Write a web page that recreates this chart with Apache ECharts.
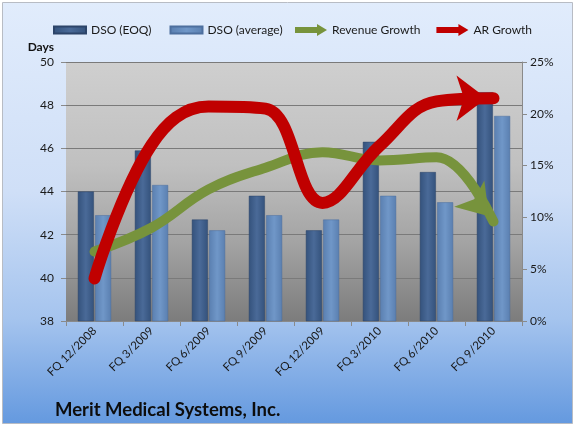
<!DOCTYPE html>
<html>
<head>
<meta charset="utf-8">
<script src="https://cdn.jsdelivr.net/npm/echarts@6/dist/echarts.min.js"></script>
<style>
html,body{margin:0;padding:0;background:#fff;}
#c{width:575px;height:427px;}
</style>
</head>
<body>
<div id="c"></div>
<script>
var categories = ['FQ 12/2008','FQ 3/2009','FQ 6/2009','FQ 9/2009','FQ 12/2009','FQ 3/2010','FQ 6/2010','FQ 9/2010'];
var dsoEoq = [44.0, 45.9, 42.7, 43.8, 42.2, 46.3, 44.9, 48.6];
var dsoAvg = [42.9, 44.3, 42.2, 42.9, 42.7, 43.8, 43.5, 47.5];
var revenueGrowth = [6.7, 9.0, 12.7, 14.8, 16.3, 15.5, 15.8, 9.6];
var arGrowth = [4.1, 17.0, 20.7, 20.5, 11.4, 16.9, 21.2, 21.5];
var daysTicks = {min: 38, max: 50, interval: 2};
var pctTicks = {min: 0, max: 25, interval: 5};

var FONT = 'Lato';
var ARROW = 'path://M0,3 L22,3 L22,0 L32,6 L22,12 L22,9 L0,9 Z';

function withArrow(arr, rot, off, size) {
  return arr.map(function (v, i) {
    if (i === arr.length - 1) {
      return {value: v, symbol: 'arrow', symbolSize: size, symbolRotate: rot, symbolOffset: off};
    }
    return {value: v, symbol: 'none'};
  });
}

var chart = echarts.init(document.getElementById('c'), null, {renderer: 'canvas'});

var gAng = 49 * Math.PI / 180;
var gShift = -15 + 8;
var option = {
  animation: false,
  graphic: [{
    type: 'rect', z: -10, silent: true,
    shape: {x: 2.5, y: 2.5, width: 570, height: 421},
    style: {
      fill: new echarts.graphic.LinearGradient(0, 0, 0, 1, [
        {offset: 0, color: '#e1ecfc'},
        {offset: 0.45, color: '#cfdff7'},
        {offset: 0.75, color: '#a5c4ee'},
        {offset: 1, color: '#6499df'}
      ]),
      stroke: '#b8bcc4', lineWidth: 1
    }
  }],
  title: {
    text: 'Merit Medical Systems, Inc.',
    left: 50, top: 396,
    textStyle: {fontFamily: FONT, fontSize: 18.5, fontWeight: 'bold', color: '#0d0d0d'}
  },
  legend: [{
    left: 48, top: 19,
    itemWidth: 32, itemHeight: 7, itemGap: 18,
    textStyle: {fontFamily: FONT, fontSize: 12, color: '#1a1a1a'},
    data: [
      {name: 'DSO (EOQ)', icon: 'rect'},
      {name: 'DSO (average)', icon: 'rect'}
    ]
  }, {
    left: 290, top: 19,
    itemWidth: 32, itemHeight: 13, itemGap: 16,
    textStyle: {fontFamily: FONT, fontSize: 12, color: '#1a1a1a'},
    data: [
      {name: 'Revenue Growth', icon: ARROW},
      {name: 'AR Growth', icon: ARROW}
    ]
  }],
  grid: {
    left: 66, right: 53, top: 62, bottom: 106,
    show: true, borderWidth: 0,
    backgroundColor: new echarts.graphic.LinearGradient(0, 0, 0, 1, [
      {offset: 0, color: '#cfcfcf'},
      {offset: 0.4, color: '#c0c0c0'},
      {offset: 0.7, color: '#a3a3a3'},
      {offset: 1, color: '#7c7c7c'}
    ])
  },
  xAxis: {
    type: 'category',
    data: categories,
    boundaryGap: true,
    axisLine: {lineStyle: {color: '#8a8a8a'}},
    axisTick: {show: true, length: 5, lineStyle: {color: '#8a8a8a'}},
    axisLabel: {rotate: 45, fontFamily: FONT, fontSize: 11.5, color: '#1a1a1a', margin: 8}
  },
  yAxis: [{
    type: 'value',
    min: daysTicks.min, max: daysTicks.max, interval: daysTicks.interval,
    name: 'Days', nameLocation: 'end', nameGap: 9,
    nameTextStyle: {fontFamily: FONT, fontSize: 12, fontWeight: 'bold', color: '#111', align: 'right', padding: [0, 12, 0, 0]},
    axisLine: {show: false},
    axisTick: {show: true, length: 5, lineStyle: {color: '#8a8a8a'}},
    axisLabel: {fontFamily: FONT, fontSize: 12, color: '#1a1a1a', margin: 12},
    splitLine: {lineStyle: {color: '#7a7a7a', width: 1}}
  }, {
    type: 'value',
    min: pctTicks.min, max: pctTicks.max, interval: pctTicks.interval,
    position: 'right',
    axisLine: {show: true, lineStyle: {color: '#8a8a8a'}},
    axisTick: {show: true, length: 5, lineStyle: {color: '#8a8a8a'}},
    axisLabel: {fontFamily: FONT, fontSize: 12, color: '#1a1a1a', margin: 8, formatter: '{value}%'},
    splitLine: {show: false}
  }],
  series: [{
    name: 'DSO (EOQ)', type: 'bar', yAxisIndex: 0,
    data: dsoEoq, barWidth: 16, barGap: '8%',
    itemStyle: {
      color: new echarts.graphic.LinearGradient(0, 0, 1, 0, [
        {offset: 0, color: '#34527c'},
        {offset: 0.5, color: '#4a6a98'},
        {offset: 1, color: '#34527c'}
      ]),
      borderColor: '#2c4469', borderWidth: 0.5
    }
  }, {
    name: 'DSO (average)', type: 'bar', yAxisIndex: 0,
    data: dsoAvg, barWidth: 16,
    itemStyle: {
      color: new echarts.graphic.LinearGradient(0, 0, 1, 0, [
        {offset: 0, color: '#5a7fb0'},
        {offset: 0.5, color: '#7097c8'},
        {offset: 1, color: '#5a7fb0'}
      ]),
      borderColor: '#4d6f9e', borderWidth: 0.5
    }
  }, {
    name: 'Revenue Growth', type: 'line', yAxisIndex: 1,
    smooth: 0.4, z: 3,
    data: withArrow(revenueGrowth, -139, [gShift * Math.cos(gAng), gShift * Math.sin(gAng)], [30, 30]),
    lineStyle: {color: '#77933c', width: 10, cap: 'round'},
    itemStyle: {color: '#77933c'}
  }, {
    name: 'AR Growth', type: 'line', yAxisIndex: 1,
    smooth: 0.4, z: 4,
    data: withArrow(arGrowth, -90, [-7, 0], [34, 30]),
    lineStyle: {color: '#c00000', width: 12, cap: 'round'},
    itemStyle: {color: '#c00000'}
  }]
};
chart.setOption(option);
</script>
</body>
</html>
